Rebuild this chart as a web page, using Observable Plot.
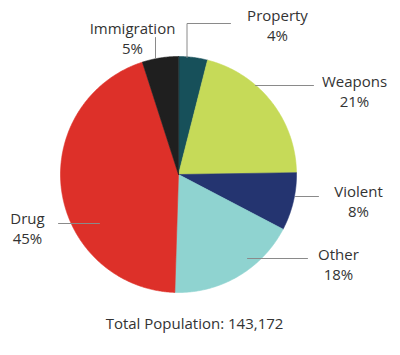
<!DOCTYPE html>
<html>
<head>
<meta charset="utf-8">
<script src="https://cdn.jsdelivr.net/npm/d3@7"></script>
<script src="https://cdn.jsdelivr.net/npm/@observablehq/plot@0.6"></script>
<style>
  html, body { margin: 0; padding: 0; background: #fff; }
  #chart svg { display: block; }
</style>
</head>
<body>
<div id="chart"></div>
<script>
// ---- data ----
const categories = ["Property", "Weapons", "Violent", "Other", "Drug", "Immigration"];
const shares = [4, 21, 8, 18, 45, 5];
const totalLabel = "Total Population: 143,172";

// ---- styles ----
const colors = ["#17505a", "#c6da58", "#243470", "#8fd3d0", "#dd3029", "#1f1f1f"];
const W = 400, H = 355;
const CX = 178, CY = 174, R = 118; // pie centre and radius in pixels
const FONT = "Open Sans, sans-serif";

// label layout (pixels): leader line path and text centre
const labelLayout = [
  {path: [[186.5, 57], [186.5, 23], [230, 23]], tx: 277, ty: 24},
  {path: [[255, 85], [313, 85]], tx: 354, ty: 90},
  {path: [[295, 196], [318, 196]], tx: 358, ty: 200},
  {path: [[247, 258], [307, 258]], tx: 338, ty: 263},
  {path: [[99, 223], [58, 223]], tx: 27, ty: 227},
  {path: [[155, 58], [155, 37]], tx: 132, ty: 37}
];
const totalPos = {tx: 194, ty: 324};

// pixel -> unit conversion (x/y scales are in units of the radius)
const ux = px => (px - CX) / R;
const uy = py => (CY - py) / R;

// ---- pie geometry (unit circle) ----
const arcs = d3.pie().sort(null).value(d => d)(shares);
const slicePts = [];
arcs.forEach((a, i) => {
  const cat = categories[i];
  slicePts.push({cat, x: 0, y: 0});
  const n = Math.max(2, Math.ceil((a.endAngle - a.startAngle) / (Math.PI / 360)));
  for (let k = 0; k <= n; k++) {
    const t = a.startAngle + (a.endAngle - a.startAngle) * k / n;
    slicePts.push({cat, x: Math.sin(t), y: Math.cos(t)});
  }
});

const leaderPts = [];
labelLayout.forEach((l, i) => l.path.forEach(([px, py]) => leaderPts.push({cat: categories[i], x: ux(px), y: uy(py)})));
const labels = categories.map((c, i) => ({
  text: `${c}\n${shares[i]}%`,
  x: ux(labelLayout[i].tx),
  y: uy(labelLayout[i].ty)
}));

const chart = Plot.plot({
  width: W,
  height: H,
  margin: 0,
  style: {fontFamily: FONT, background: "#fff"},
  x: {domain: [ux(0), ux(W)], axis: null},
  y: {domain: [uy(H), uy(0)], axis: null},
  color: {domain: categories, range: colors},
  marks: [
    Plot.line(slicePts, {x: "x", y: "y", z: "cat", fill: "cat", stroke: "cat", strokeWidth: 0.6, curve: "linear-closed"}),
    Plot.line(leaderPts, {x: "x", y: "y", z: "cat", stroke: "#8a8a8a", strokeWidth: 1}),
    Plot.text(labels, {x: "x", y: "y", text: "text", fontSize: 15, lineHeight: 1.33, fill: "#333", textAnchor: "middle", lineAnchor: "middle"}),
    Plot.text([totalLabel], {x: ux(totalPos.tx), y: uy(totalPos.ty), text: d => d, fontSize: 15, fill: "#333", textAnchor: "middle", lineAnchor: "middle"})
  ]
});
document.getElementById("chart").appendChild(chart);
</script>
</body>
</html>
